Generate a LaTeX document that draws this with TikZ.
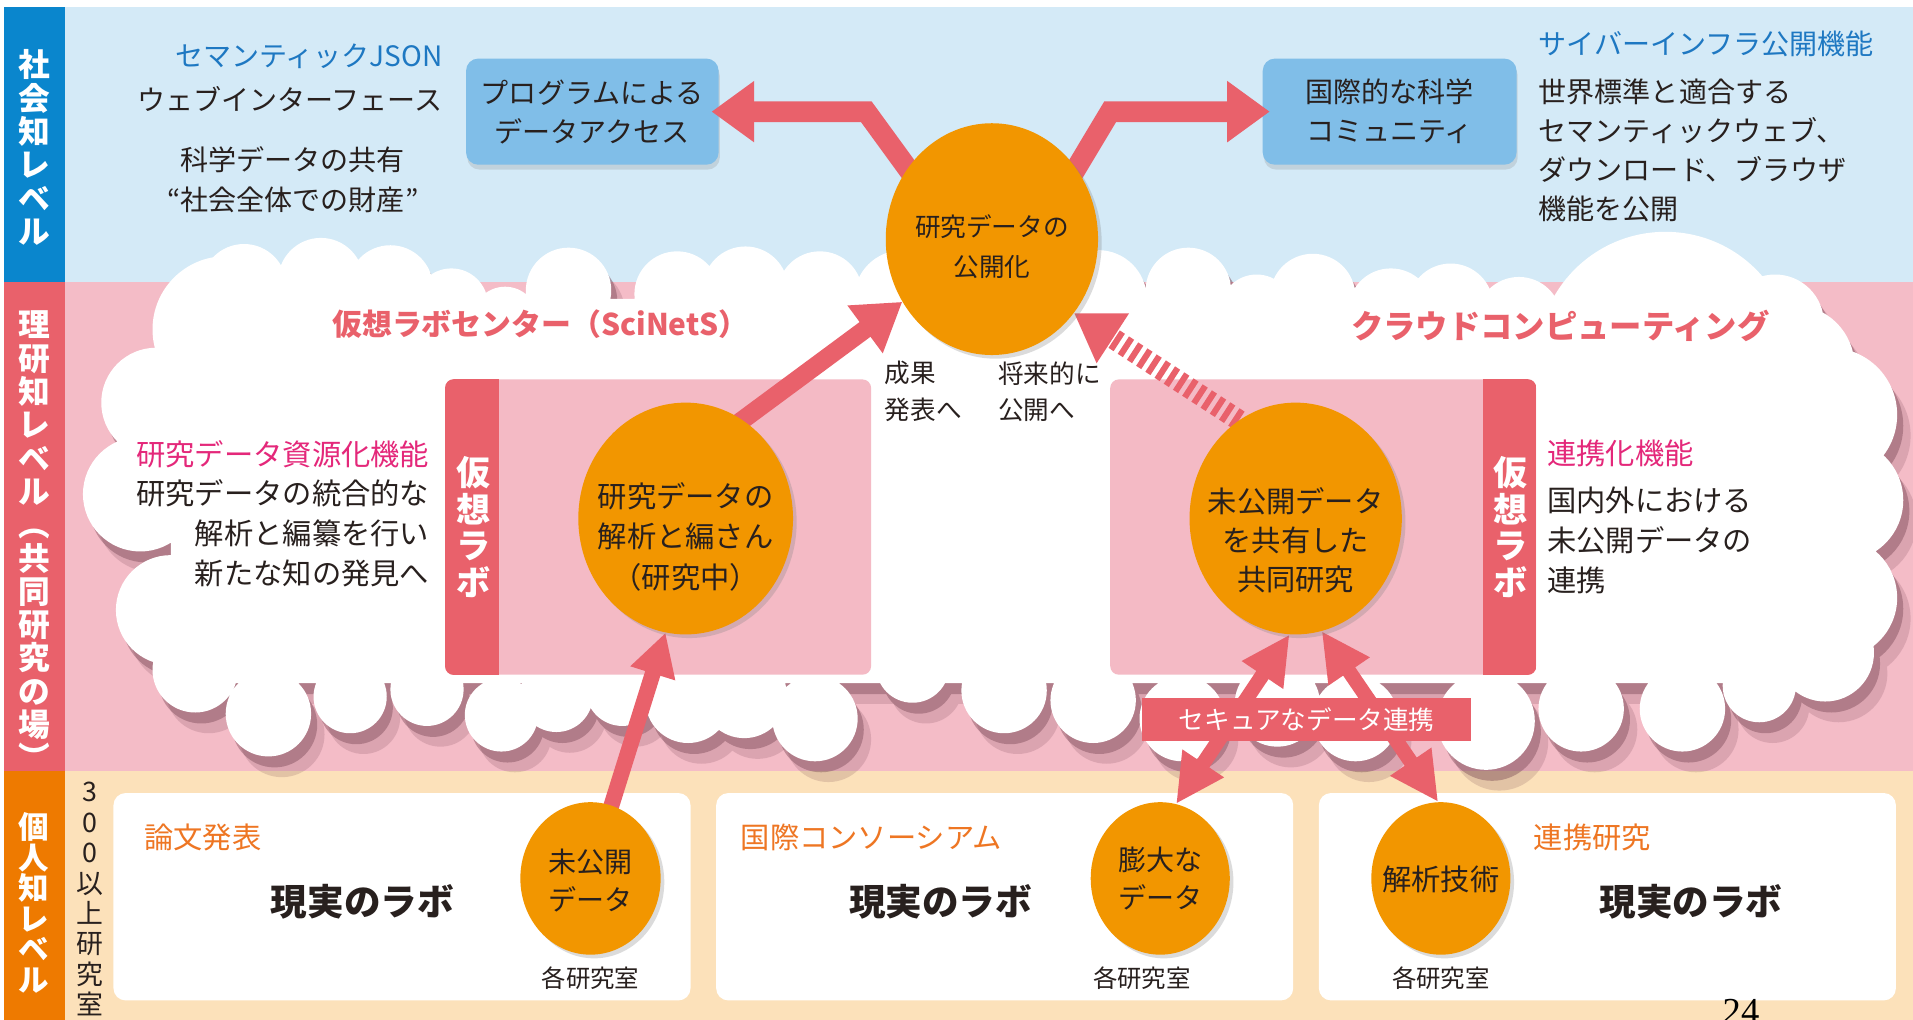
\documentclass[tikz,border=0pt]{standalone}
\usepackage{fontspec}
\setmainfont{Noto Sans CJK JP}
\newfontfamily\seriffont{Liberation Serif}
\usetikzlibrary{arrows.meta,shapes.geometric,shadows}
\pgfdeclarelayer{bg}
\pgfdeclarelayer{arr}
\pgfsetlayers{bg,arr,main}

\definecolor{bandblue}{RGB}{212,234,247}
\definecolor{bandpink}{RGB}{244,188,199}
\definecolor{bandbeige}{RGB}{252,225,186}
\definecolor{colblue}{RGB}{10,134,205}
\definecolor{coral}{RGB}{233,97,107}
\definecolor{colorange}{RGB}{238,122,0}
\definecolor{boxblue}{RGB}{128,190,232}
\definecolor{circorange}{RGB}{242,150,0}
\definecolor{labpink}{RGB}{244,186,197}
\definecolor{hotpink}{RGB}{228,40,122}
\definecolor{tblue}{RGB}{30,120,194}
\definecolor{torange}{RGB}{238,118,35}
\definecolor{tdark}{RGB}{40,32,30}
\definecolor{shadowc}{RGB}{110,60,75}

\newcommand\fs[2]{\fontsize{#1}{#2}\selectfont}
\newcommand\cloudpath{%
 (140,560) rectangle (1480,245)
 (185,270) circle[radius=60] (200,235) circle[radius=35]
 (263,230) circle[radius=35] (320,236) circle[radius=35]
 (370,250) circle[radius=30] (414,262) circle[radius=27]
 (466,238) circle[radius=35] (555,241) circle[radius=35]
 (611,237) circle[radius=35] (672,241) circle[radius=35]
 (740,245) circle[radius=40] (900,245) circle[radius=40]
 (974,238) circle[radius=35] (1030,255) circle[radius=30]
 (1076,243) circle[radius=35] (1140,255) circle[radius=35]
 (1189,251) circle[radius=35] (1245,262) circle[radius=35]
 (1365,295) circle[radius=105] (1455,265) circle[radius=40]
 (1470,300) circle[radius=50]
 (1500,340) circle[radius=55] (1510,410) circle[radius=50]
 (1505,490) circle[radius=50] (1496,535) circle[radius=40]
 (1442,562) circle[radius=30] (1379,581) circle[radius=35]
 (1296,581) circle[radius=35] (1218,591) circle[radius=40]
 (1111,589) circle[radius=35] (1047,577) circle[radius=35]
 (969,589) circle[radius=35] (896,574) circle[radius=35]
 (823,566) circle[radius=35] (748,546) circle[radius=30]
 (668,589) circle[radius=35] (610,570) circle[radius=35]
 (564,574) circle[radius=35] (510,565) circle[radius=30]
 (456,570) circle[radius=30] (411,586) circle[radius=30]
 (350,565) circle[radius=30] (287,571) circle[radius=30]
 (220,585) circle[radius=35] (160,549) circle[radius=35]
 (140,500) circle[radius=45] (115,405) circle[radius=47]
 (128,330) circle[radius=45]}

\tikzset{
 txt/.style={text=tdark, inner sep=0pt, font=\fs{23}{32}},
 vlab/.style={text=white, inner sep=0pt, align=center, font=\bfseries\fs{26}{27.3}},
 circ/.style={ellipse, fill=circorange, inner sep=0pt,
   drop shadow={shadow xshift=3pt, shadow yshift=-3pt, opacity=0.28}},
 ctext/.style={text=tdark, inner sep=0pt, align=center},
 bluebox/.style={rectangle, rounded corners=10pt, fill=boxblue, minimum width=207pt,
   minimum height=87pt, align=center, font=\fs{23}{32}, text=tdark,
   drop shadow={shadow xshift=1pt, shadow yshift=-4pt, opacity=0.22}},
 whitebox/.style={fill=white, rounded corners=10pt},
 labbox/.style={rectangle, fill=labpink, rounded corners=7pt, minimum width=349pt,
   minimum height=242pt, inner sep=0pt},
 bigarr/.style={draw=coral, line width=17pt, line join=miter,
   -{Triangle[length=35pt,width=48pt]}},
 midarr/.style={draw=coral, line width=15pt, -{Triangle[length=38pt,width=46pt]}},
 thinarr/.style={draw=coral, line width=13pt, -{Triangle[length=35pt,width=36pt]}},
 stripearr/.style={draw=coral, line width=17pt, dash pattern=on 5pt off 4pt,
   -{Triangle[length=38pt,width=46pt]}},
 biarr/.style={draw=coral, line width=12pt,
   {Triangle[length=40pt,width=38pt]}-{Triangle[length=40pt,width=38pt]}},
}

\begin{document}
\begin{tikzpicture}[x=1pt,y=-1pt]
\useasboundingbox (0,0) rectangle (1568,836);

% ---------- main layer: circles and texts ----------
\node[circ, minimum width=174pt, minimum height=190pt] (pub) at (813,196) {};
\node[circ, minimum width=176pt, minimum height=190pt] (anal) at (562,425) {};
\node[circ, minimum width=174pt, minimum height=190pt] (share) at (1062,425) {};
\node[circ, minimum width=115pt, minimum height=125pt] (unpub) at (484,720) {};
\node[circ, minimum width=114pt, minimum height=125pt] (big) at (951,720) {};
\node[circ, minimum width=114pt, minimum height=125pt] (tech) at (1181,720) {};

\node[ctext, font=\fs{21}{33}] (pubt) at (813,202) {研究データの\\公開化};
\node[ctext, font=\fs{24}{33.5}] (analt) at (562,440) {研究データの\\解析と編さん\\（研究中）};
\node[ctext, font=\fs{24}{32}] (sharet) at (1062,443) {未公開データ\\を共有した\\共同研究};
\node[ctext, font=\fs{23}{31}] (unpubt) at (484,722) {未公開\\データ};
\node[ctext, font=\fs{23}{31}] (bigt) at (951,720) {膨大な\\データ};
\node[ctext, font=\fs{24}{30}] (techt) at (1181,721) {解析技術};

% left level labels
\node[vlab] (lv1) at (28,121) {社\\会\\知\\レ\\ベ\\ル};
\node[vlab] (lv2) at (28,443) {理\\研\\知\\レ\\ベ\\ル\\︵\\共\\同\\研\\究\\の\\場\\︶};
\node[vlab, font=\bfseries\fs{25}{25}] (lv3) at (28,740) {個\\人\\知\\レ\\ベ\\ル};
\node[ctext, font=\fs{22}{24.9}] (count) at (74,737) {3\\0\\0\\以\\上\\研\\究\\室};

% top-left texts
\node[txt, anchor=east, text=tblue] (semjson) at (363,46) {セマンティックJSON};
\node[txt, anchor=east] (webif) at (363,81) {ウェブインターフェース};
\node[txt] (shr1) at (240,131) {科学データの共有};
\node[txt] (shr2) at (240,164) {“社会全体での財産”};

% top-right texts
\node[txt, anchor=west, text=tblue] (cyber) at (1261,36) {サイバーインフラ公開機能};
\node[txt, anchor=west, align=left] (std) at (1261,123)
  {世界標準と適合する\\セマンティックウェブ、\\ダウンロード、ブラウザ\\機能を公開};

% cloud titles
\node[txt, text=coral, font=\bfseries\fs{24.5}{30}] (t1) at (443,266) {仮想ラボセンター（SciNetS）};
\node[txt, text=coral, font=\bfseries\fs{26.5}{30}] (t2) at (1279,267) {クラウドコンピューティング};

% left / right function texts
\node[txt, anchor=east, text=hotpink, font=\fs{24}{33}] (rs1) at (352,372) {研究データ資源化機能};
\node[txt, anchor=east, align=right, font=\fs{24}{33}] (rs2) at (352,437)
  {研究データの統合的な\\解析と編纂を行い\\新たな知の発見へ};
\node[txt, anchor=west, text=hotpink, font=\fs{24}{33}] (ren1) at (1268,372) {連携化機能};
\node[txt, anchor=west, align=left, font=\fs{24}{33}] (ren2) at (1268,443)
  {国内外における\\未公開データの\\連携};

% small labels near center
\node[txt, anchor=west, align=left, font=\fs{21}{30}] (seika) at (725,321) {成果\\発表へ};
\node[txt, anchor=west, align=left, font=\fs{21}{30}] (shorai) at (818,321) {将来的に\\公開へ};

% virtual lab vertical labels
\node[vlab, font=\bfseries\fs{28}{30}] (vL) at (388,432) {仮\\想\\ラ\\ボ};
\node[vlab, font=\bfseries\fs{28}{30}] (vR) at (1238,432) {仮\\想\\ラ\\ボ};

% secure label
\node[fill=coral, text=white, minimum width=270pt, minimum height=35pt, inner sep=0pt,
  font=\fs{21}{24}] (secure) at (1071,589.5) {セキュアなデータ連携};

% bottom texts
\node[txt, anchor=west, text=torange, font=\fs{24}{30}] (o1) at (118,686) {論文発表};
\node[txt, anchor=west, text=torange, font=\fs{24}{30}] (o2) at (607,686) {国際コンソーシアム};
\node[txt, anchor=west, text=torange, font=\fs{24}{30}] (o3) at (1257,686) {連携研究};
\node[txt, font=\bfseries\fs{30}{34}] (r1) at (297,739) {現実のラボ};
\node[txt, font=\bfseries\fs{30}{34}] (r2) at (771,739) {現実のラボ};
\node[txt, font=\bfseries\fs{30}{34}] (r3) at (1386,739) {現実のラボ};
\node[txt, font=\fs{20}{24}] (lab1) at (484,802) {各研究室};
\node[txt, font=\fs{20}{24}] (lab2) at (936,802) {各研究室};
\node[txt, font=\fs{20}{24}] (lab3) at (1181,802) {各研究室};
\node[inner sep=0pt, anchor=north, text=black, font=\seriffont\fs{30}{34}] (pageno) at (1427,819) {24};

% ---------- background layer ----------
\begin{pgfonlayer}{bg}
\fill[white] (0,0) rectangle (1568,836);
\fill[bandblue] (53,6) rectangle (1568,231);
\fill[bandpink] (53,231) rectangle (1568,632);
\fill[bandbeige] (53,632) rectangle (1568,836);
\fill[colblue] (3,6) rectangle (53,231);
\fill[coral] (3,231) rectangle (53,632);
\fill[colorange] (3,632) rectangle (53,836);

% cloud with shadow
\begin{scope}[shift={(11,17)}]
  \fill[shadowc, opacity=0.18] \cloudpath;
\end{scope}
\begin{scope}[shift={(5,9)}]
  \fill[shadowc, opacity=0.38] \cloudpath;
\end{scope}
\fill[white] \cloudpath;

% blue boxes
\node[bluebox] (prog) at (485.5,91.5) {プログラムによる\\データアクセス};
\node[bluebox, minimum width=208pt] (intl) at (1139,91.5) {国際的な科学\\コミュニティ};

% virtual lab boxes
\node[labbox] (labL) at (539.5,432) {};
\node[labbox] (labR) at (1084.5,432) {};
\begin{scope}
  \clip[rounded corners=7pt] (labL.north west) rectangle (labL.south east);
  \fill[coral] (labL.north west) rectangle ([xshift=44pt]labL.south west);
\end{scope}
\begin{scope}
  \clip[rounded corners=7pt] (labR.north west) rectangle (labR.south east);
  \fill[coral] ([xshift=-44pt]labR.north east) rectangle (labR.south east);
\end{scope}

% white boxes of the real labs
\node[whitebox, minimum width=473pt, minimum height=170pt] (wb1) at (329.5,735) {};
\node[whitebox, minimum width=473pt, minimum height=170pt] (wb2) at (823.5,735) {};
\node[whitebox, minimum width=473pt, minimum height=170pt] (wb3) at (1317.5,735) {};
\end{pgfonlayer}

% ---------- arrows layer ----------
\begin{pgfonlayer}{arr}
\coordinate (bL) at (710,91.5);
\coordinate (bR) at (910,91.5);
\draw[bigarr, shorten <=-25pt, shorten >=-6pt] (pub.140) -- (bL) -- (prog.east);
\draw[bigarr, shorten <=-25pt, shorten >=-6pt] (pub.40) -- (bR) -- (intl.west);
\draw[midarr, shorten <=-20pt] (anal.60) -- (pub.215);
\draw[thinarr, shorten <=-15pt] (unpub.74) -- (anal.260);
\draw[stripearr] (share.120) -- (pub.318);
\draw[biarr] (share.267) -- (big.78);
\draw[biarr] (share.283) -- (tech.92);
\end{pgfonlayer}
\end{tikzpicture}
\end{document}
